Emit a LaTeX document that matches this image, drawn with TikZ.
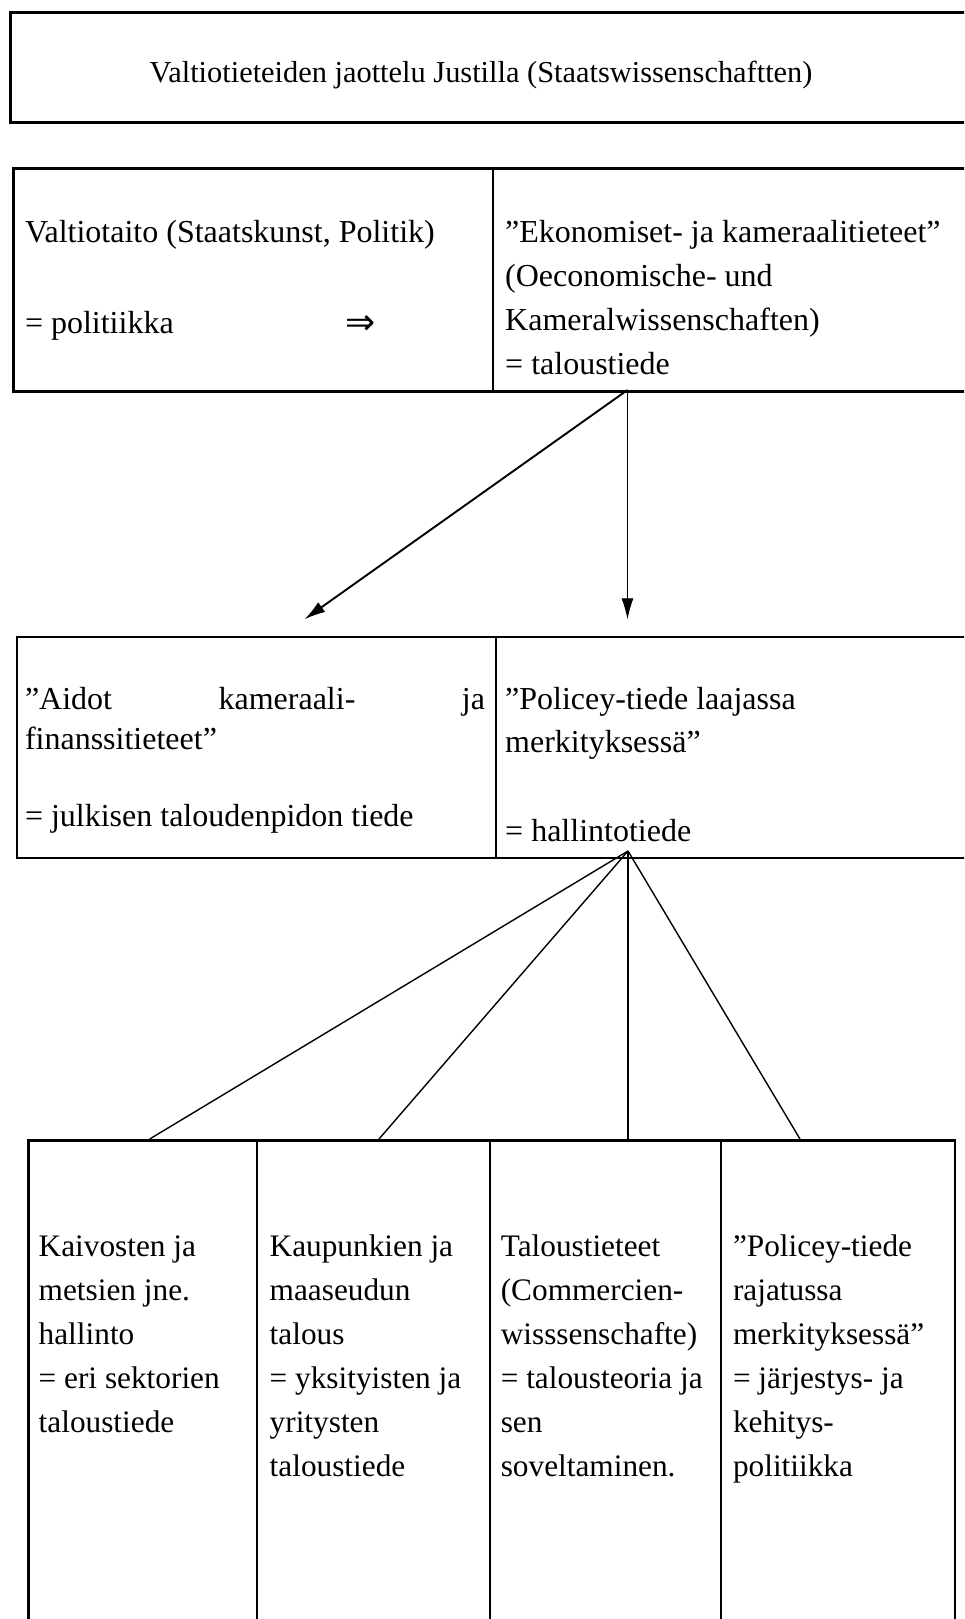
\documentclass[tikz,border=0pt]{standalone}
\usepackage{fontspec}
\setmainfont{Liberation Serif}
\newfontfamily\symfont{DejaVu Sans}
\usetikzlibrary{arrows.meta}
\newcommand{\celltext}[1]{\vtop{\baselineskip=44pt\lineskiplimit=-100pt\lineskip=0pt\relax #1}}
\begin{document}
\begin{tikzpicture}[x=1pt,y=-1pt,
  font=\fontsize{30.8}{44}\selectfont,
  bigtxt/.style={font=\fontsize{32}{44}\selectfont},
  smalltxt/.style={font=\fontsize{31.3}{44}\selectfont},
  frame/.style={draw, line width=2.7pt, anchor=north west, inner sep=0pt},
  divider/.style={line width=2pt},
  txt/.style={anchor=base west, inner sep=0pt},
  conn/.style={line width=1.4pt},
  arr/.style={-{Latex[length=21pt,width=12pt]}}]
\useasboundingbox (0,0) rectangle (964,1619);
\clip (0,0) rectangle (964,1619);
\fill[white] (0,0) rectangle (964,1619);

% frames
\node[frame, minimum width=990pt, minimum height=110pt] (row1) at (9.3,11) {};
\node[frame, minimum width=990pt, minimum height=223pt] (row2) at (12.4,167) {};
\node[frame, minimum width=990pt, minimum height=221pt] (row3) at (15.5,635.5) {};
\node[frame, minimum width=926.9pt, minimum height=540pt] (row4) at (26.8,1139) {};

% dividers
\draw[divider] (493.3,167) -- (493.3,390);
\draw[divider] (496.4,635.5) -- (496.4,856.5);
\draw[divider] (257,1139) -- (257,1640);
\draw[divider] (489.6,1139) -- (489.6,1640);
\draw[divider] (720.8,1139) -- (720.8,1640);

% texts
\node[txt, font=\fontsize{30.4}{44}\selectfont] (title) at (149.5,82.5) {Valtiotieteiden jaottelu Justilla (Staatswissenschaftten)};

\node[txt, bigtxt] (valtiotaito) at (24.8,242) {Valtiotaito (Staatskunst, Politik)};
\node[txt, bigtxt] (politiikka) at (24.8,333) {= politiikka};
\node[txt, font=\fontsize{36}{44}\symfont] (implies) at (345,334) {⇒};
\node[txt, bigtxt] (ekonomiset) at (505,242) {\celltext{\hbox{”Ekonomiset- ja kameraalitieteet”}\hbox{(Oeconomische- und}\hbox{Kameralwissenschaften)}\hbox{= taloustiede}}};

\node[txt, bigtxt] (aidot) at (24.8,709) {\makebox[460pt][s]{”Aidot kameraali- ja}};
\node[txt, bigtxt] (finanssi) at (24.8,749) {finanssitieteet”};
\node[txt, bigtxt] (julkisen) at (24.8,826.5) {= julkisen taloudenpidon tiede};
\node[txt, bigtxt] (policey) at (505,709) {”Policey-tiede laajassa};
\node[txt, bigtxt] (merkit) at (505,752.5) {merkityksessä”};
\node[txt, bigtxt] (hallinto) at (505,841) {= hallintotiede};

\node[txt, smalltxt] (col1) at (38.5,1256.7) {\celltext{\hbox{Kaivosten ja}\hbox{metsien jne.}\hbox{hallinto}\hbox{= eri sektorien}\hbox{taloustiede}}};
\node[txt, smalltxt] (col2) at (269.5,1256.7) {\celltext{\hbox{Kaupunkien ja}\hbox{maaseudun}\hbox{talous}\hbox{= yksityisten ja}\hbox{yritysten}\hbox{taloustiede}}};
\node[txt, smalltxt] (col3) at (500.6,1256.7) {\celltext{\hbox{Taloustieteet}\hbox{(Commercien-}\hbox{wisssenschafte)}\hbox{= talousteoria ja}\hbox{sen}\hbox{soveltaminen.}}};
\node[txt, smalltxt] (col4) at (732.8,1256.7) {\celltext{\hbox{”Policey-tiede}\hbox{rajatussa}\hbox{merkityksessä”}\hbox{= järjestys- ja}\hbox{kehitys-}\hbox{politiikka}}};

% connectors
\coordinate (s1) at (627.5,390);
\coordinate (e1) at (304.5,619.3);
\coordinate (e2) at (627.5,619.3);
\draw[arr, line width=1.9pt] (s1) -- (e1);
\draw[arr, line width=1.1pt] (s1) -- (e2);

\coordinate (s2) at (628,851);
\coordinate (t1) at (149.7,1139);
\coordinate (t2) at (379,1139);
\coordinate (t3) at (628,1139);
\coordinate (t4) at (800,1139);
\draw[conn] (s2) -- (t1);
\draw[conn] (s2) -- (t2);
\draw[conn] (s2) -- (t3);
\draw[conn] (s2) -- (t4);
\end{tikzpicture}
\end{document}
